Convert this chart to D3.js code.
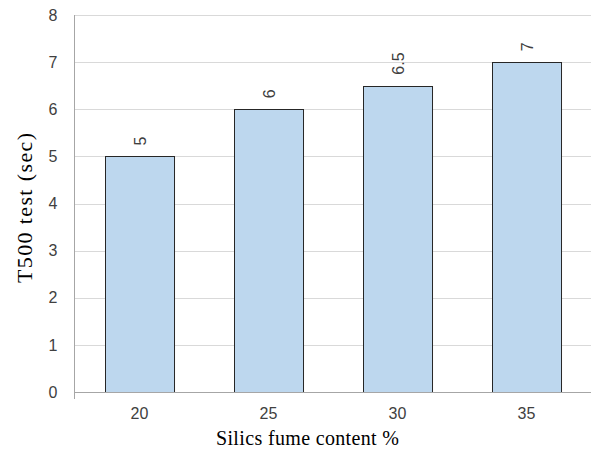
<!DOCTYPE html>
<html>
<head>
<meta charset="utf-8">
<script src="https://cdn.jsdelivr.net/npm/d3@7"></script>
<style>
  html, body { margin: 0; padding: 0; background: #fff; }
  svg { display: block; }
</style>
</head>
<body>
<svg id="chart" width="592" height="452"></svg>
<script>
// Silica fume content (%) and the measured T500 time (s)
const categories = ["20", "25", "30", "35"];
const t500Values = [5, 6, 6.5, 7];
const yTicks = [0, 1, 2, 3, 4, 5, 6, 7, 8];

const svg = d3.select("#chart");
const margin = { left: 75, right: 1, top: 15, bottom: 60 };
const width = 592 - margin.left - margin.right;
const height = 452 - margin.top - margin.bottom;
const sans = "'Liberation Sans', Arial, sans-serif";
const serif = "'Liberation Serif', 'Times New Roman', serif";

const g = svg.append("g").attr("transform", `translate(${margin.left},${margin.top})`);

const x = d3.scaleBand().domain(categories).range([0, width]).paddingInner(0.465).paddingOuter(0.2325);
const y = d3.scaleLinear().domain([0, 8]).range([height, 0]);

// horizontal gridlines
g.append("g")
  .selectAll("line")
  .data(yTicks.filter(d => d > 0))
  .join("line")
  .attr("x1", 0).attr("x2", width)
  .attr("y1", d => Math.round(y(d)) + 0.5).attr("y2", d => Math.round(y(d)) + 0.5)
  .attr("stroke", "#d9d9d9").attr("stroke-width", 1);

// y axis (line runs a few pixels below zero)
const yAxis = g.append("g")
  .attr("transform", "translate(-0.5,0)")
  .call(d3.axisLeft(y).tickValues(yTicks).tickSize(0).tickPadding(17).tickFormat(d3.format("d")));
yAxis.select(".domain").attr("stroke", "#a6a6a6").attr("d", `M0,0V${Math.round(height) + 7}`);
yAxis.selectAll("text")
  .attr("font-family", sans)
  .attr("font-size", 16).attr("fill", "#404040");

// bars
g.append("g")
  .selectAll("rect")
  .data(t500Values)
  .join("rect")
  .attr("x", (d, i) => Math.round(x(categories[i])) + 0.5)
  .attr("y", d => Math.round(y(d)) + 0.5)
  .attr("width", x.bandwidth())
  .attr("height", d => Math.round(y(0)) - Math.round(y(d)))
  .attr("fill", "#bdd7ee")
  .attr("stroke", "#262626").attr("stroke-width", 1);

// x axis
const xAxis = g.append("g")
  .attr("transform", `translate(0,${Math.round(height) + 0.5})`)
  .call(d3.axisBottom(x).tickSize(0).tickPadding(15));
xAxis.select(".domain").attr("stroke", "#a6a6a6").attr("d", `M-1,0H${width}`);
xAxis.selectAll("text")
  .attr("font-family", sans)
  .attr("font-size", 16).attr("fill", "#404040");

// value labels, rotated
g.append("g")
  .selectAll("text")
  .data(t500Values)
  .join("text")
  .attr("transform", (d, i) => `translate(${x(categories[i]) + x.bandwidth() / 2 + 6},${y(d) - 11}) rotate(-90)`)
  .attr("text-anchor", "start")
  .attr("font-family", sans)
  .attr("font-size", 16).attr("fill", "#404040")
  .text(d => d);

// axis titles
svg.append("text")
  .attr("x", 216).attr("y", 445)
  .attr("text-anchor", "start")
  .attr("font-family", serif)
  .attr("font-size", 20).attr("fill", "#000")
  .attr("textLength", 183).attr("lengthAdjust", "spacing")
  .text("Silics fume content %");

svg.append("text")
  .attr("transform", "translate(32,283) rotate(-90)")
  .attr("text-anchor", "start")
  .attr("font-family", serif)
  .attr("font-size", 22).attr("fill", "#000")
  .attr("textLength", 150).attr("lengthAdjust", "spacing")
  .text("T500 test (sec)");
</script>
</body>
</html>
